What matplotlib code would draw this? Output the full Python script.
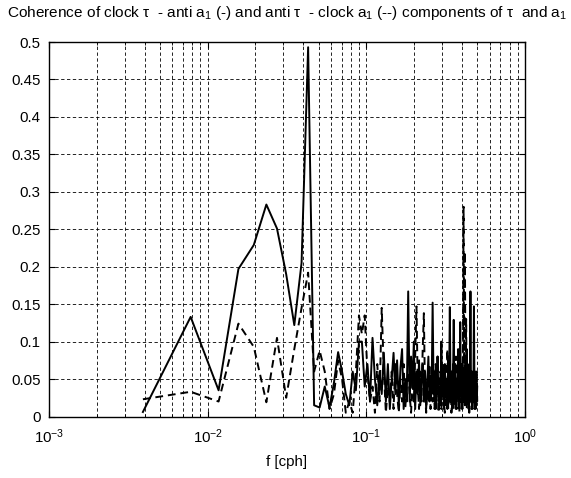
import numpy as np
import matplotlib
matplotlib.use("Agg")
import matplotlib.pyplot as plt
from matplotlib.ticker import LogLocator, FixedLocator, FuncFormatter, NullFormatter

plt.rcParams['font.family'] = ['Liberation Sans', 'DejaVu Sans']
plt.rcParams['mathtext.fontset'] = 'custom'
plt.rcParams['mathtext.rm'] = 'Liberation Sans'
plt.rcParams['mathtext.it'] = 'Liberation Sans:italic'
plt.rcParams['mathtext.default'] = 'regular'

# record length (hours) -> frequency resolution of the spectra
n_hours = 256
n_freq = 128

# coherence, clock tau - anti a1 (solid)
coh_solid = [
    0.006, 0.133, 0.035, 0.197, 0.229, 0.283, 0.251, 0.19, 0.122, 0.205,   # k1-10
    0.493, 0.015, 0.012, 0.04, 0.012, 0.045, 0.086, 0.06, 0.03, 0.015,     # k11-20
    0.06, 0.035, 0.1,                                                       # k21-23
    0.1, 0.04, 0.07, 0.02, 0.105, 0.05, 0.015, 0.06, 0.03, 0.085, 0.02,     # k24-34
    0.07, 0.01, 0.05, 0.085, 0.03, 0.075, 0.015, 0.065, 0.09, 0.01, 0.05,   # k35-45
    0.02, 0.167,                                                            # k46-47
    0.02, 0.08, 0.04, 0.1, 0.01, 0.06, 0.03, 0.075, 0.015, 0.05,            # k48-57
    0.07, 0.02, 0.06, 0.01, 0.045, 0.08, 0.02, 0.055, 0.03,                 # k58-66
    0.152, 0.03, 0.06, 0.01, 0.05, 0.08, 0.02, 0.04, 0.015, 0.1,            # k67-76
    0.03, 0.06, 0.01, 0.07, 0.025, 0.05, 0.01, 0.08, 0.03, 0.146,           # k77-86
    0.02, 0.06, 0.01, 0.04, 0.129, 0.02, 0.07, 0.01, 0.05, 0.03,            # k87-96
    0.09, 0.015, 0.04, 0.126,                                               # k97-100
    0.03, 0.07, 0.01, 0.05, 0.02, 0.06, 0.015, 0.08, 0.03, 0.09,            # k101-110
    0.02, 0.05, 0.01, 0.07, 0.03, 0.167, 0.02, 0.06, 0.01, 0.04,            # k111-120
    0.02, 0.147, 0.03, 0.06, 0.01, 0.05, 0.02, 0.04,                        # k121-128
]

# coherence, anti tau - clock a1 (dashed)
coh_dashed = [
    0.023, 0.033, 0.02, 0.124, 0.093, 0.019, 0.105, 0.025, 0.09, 0.145,    # k1-10
    0.192, 0.06, 0.088, 0.06, 0.01, 0.03, 0.075, 0.05, 0.005, 0.02,        # k11-20
    0.005, 0.06, 0.135,                                                     # k21-23
    0.11, 0.135, 0.06, 0.02, 0.04, 0.005, 0.07, 0.02, 0.145, 0.06, 0.005,   # k24-34
    0.04, 0.02, 0.06, 0.01, 0.07, 0.03, 0.005, 0.05, 0.02, 0.07, 0.01,      # k35-45
    0.04, 0.06,                                                             # k46-47
    0.03, 0.005, 0.05, 0.02, 0.08, 0.147, 0.04, 0.01, 0.06, 0.02,           # k48-57
    0.09, 0.138, 0.03, 0.005, 0.05, 0.02, 0.07, 0.01, 0.04,                 # k58-66
    0.02, 0.05, 0.01, 0.07, 0.03, 0.08, 0.005, 0.04, 0.06, 0.01,            # k67-76
    0.03, 0.07, 0.02, 0.005, 0.05, 0.03, 0.09, 0.01, 0.04, 0.02,            # k77-86
    0.06, 0.005, 0.03, 0.07, 0.01, 0.05, 0.02, 0.08, 0.01, 0.04,            # k87-96
    0.06, 0.02, 0.005, 0.05,                                                # k97-100
    0.02, 0.06, 0.01, 0.08, 0.28, 0.02, 0.22, 0.05, 0.13, 0.01,             # k101-110
    0.06, 0.02, 0.04, 0.005, 0.07, 0.02, 0.05, 0.01, 0.03, 0.06,            # k111-120
    0.02, 0.04, 0.01, 0.05, 0.02, 0.03, 0.06, 0.02,                         # k121-128
]

y_ticks = [0, 0.05, 0.1, 0.15, 0.2, 0.25, 0.3, 0.35, 0.4, 0.45, 0.5]
title = (r"Coherence of clock $\tau$  - anti a$_1$ (-) and anti $\tau$  - clock a$_1$ (--) "
         r"components of $\tau$  and a$_1$")
xlabel = "f [cph]"

freq = np.arange(1, n_freq + 1) / n_hours
assert len(coh_solid) == n_freq and len(coh_dashed) == n_freq

fig = plt.figure(figsize=(5.71, 4.78), dpi=100)
ax = fig.add_axes([49 / 571, 1 - 416.5 / 478, (525 - 49) / 571, (416.5 - 42) / 478])

ax.plot(freq, coh_solid, color='black', lw=1.4, ls='-')
ax.plot(freq, coh_dashed, color='black', lw=1.4, ls=(0, (4, 2.5)))

ax.set_xscale('log')
ax.set_xlim(1e-3, 1)
ax.set_ylim(0, 0.5)
ax.xaxis.set_major_locator(LogLocator(base=10, numticks=10))
ax.xaxis.set_minor_locator(LogLocator(base=10, subs=np.arange(2, 10), numticks=20))
ax.xaxis.set_minor_formatter(NullFormatter())
ax.yaxis.set_major_locator(FixedLocator(y_ticks))
ax.yaxis.set_major_formatter(FuncFormatter(lambda v, p: "%g" % v))

ax.grid(True, which='major', axis='both', color='black', ls=(0, (4, 3)), lw=0.6)
ax.grid(True, which='minor', axis='x', color='black', ls=(0, (4, 3)), lw=0.6)

ax.tick_params(which='both', direction='in', top=True, right=True, labelsize=10.8)
ax.tick_params(axis='x', pad=8)
ax.tick_params(axis='y', pad=6)
ax.tick_params(which='major', length=4)
ax.tick_params(which='minor', length=2.5)
for s in ax.spines.values():
    s.set_linewidth(1.0)

ax.set_xlabel(xlabel, fontsize=10.8, labelpad=6)
fig.text(287 / 571, 1 - 17 / 478, title, ha='center', va='baseline', fontsize=11.1)

fig.savefig("out.png", dpi=100)
